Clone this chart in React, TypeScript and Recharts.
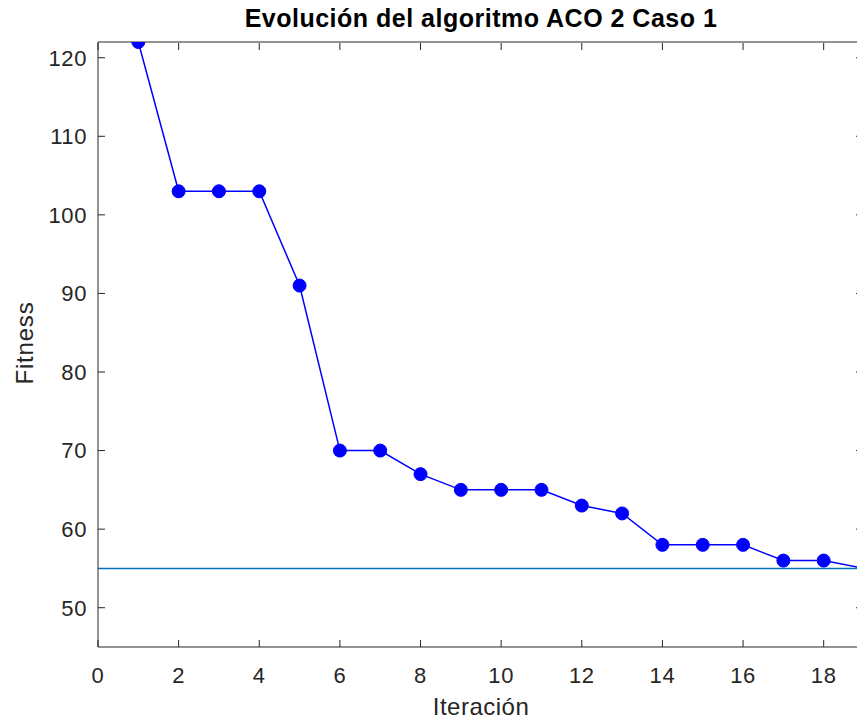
import { LineChart, Line, XAxis, YAxis, ReferenceLine, Label } from "recharts";

const iterations = [1, 2, 3, 4, 5, 6, 7, 8, 9, 10, 11, 12, 13, 14, 15, 16, 17, 18, 19];
const fitness = [122, 103, 103, 103, 91, 70, 70, 67, 65, 65, 65, 63, 62, 58, 58, 58, 56, 56, 55];
const bestFitness = 55;
const xTicks = [0, 2, 4, 6, 8, 10, 12, 14, 16, 18];
const yTicks = [50, 60, 70, 80, 90, 100, 110, 120];

const data = iterations.map((it, i) => ({ iter: it, fitness: fitness[i] }));

const FONT = '"Liberation Sans", Arial, Helvetica, sans-serif';
const AXIS = "#262626";
const TICK_LEN = 7;
const X_GAP = 20;
const Y_GAP = 11;

// matlab style ticks point into the plot
const BottomTick = ({ x, y, payload }: any) => (
  <g>
    <line x1={x} x2={x} y1={y - X_GAP} y2={y - X_GAP - TICK_LEN} stroke={AXIS} />
    <text x={x} y={y} dy="0.71em" textAnchor="middle" fontSize={22} letterSpacing={0.6} fill={AXIS} fontFamily={FONT}>
      {payload.value}
    </text>
  </g>
);

const LeftTick = ({ x, y, payload }: any) => (
  <g>
    <line x1={x + Y_GAP} x2={x + Y_GAP + TICK_LEN} y1={y} y2={y} stroke={AXIS} />
    <text x={x} y={y} dy="0.36em" textAnchor="end" fontSize={22} letterSpacing={0.6} fill={AXIS} fontFamily={FONT}>
      {payload.value}
    </text>
  </g>
);

const TopTick = ({ x, y }: any) => (
  <line x1={x} x2={x} y1={y + 1} y2={y + 1 + TICK_LEN} stroke={AXIS} />
);

const RightTick = ({ x, y }: any) => (
  <line x1={x - 1} x2={x - 1 - TICK_LEN} y1={y} y2={y} stroke={AXIS} />
);

const FitnessLabel = () => (
  <text
    x={24}
    y={343}
    transform="rotate(-90 24 343)"
    textAnchor="middle"
    dominantBaseline="central"
    fontSize={24}
    letterSpacing={0.8}
    fill={AXIS}
    fontFamily={FONT}
  >
    Fitness
  </text>
);

const App = () => {
  return (
    <div
      style={{
        position: "absolute",
        left: 0,
        top: 0,
        width: 857,
        height: 720,
        overflow: "hidden",
        background: "#fff",
      }}
    >
      <LineChart
        width={870}
        height={720}
        data={data}
        margin={{ top: 0, right: 0, left: 0, bottom: 0 }}
      >
        <XAxis
          dataKey="iter"
          type="number"
          domain={[0, 19]}
          ticks={xTicks}
          allowDataOverflow
          height={73}
          stroke={AXIS}
          tickLine={false}
          tickSize={0}
          tickMargin={X_GAP}
          tick={<BottomTick />}
        >
          <Label
            value="Iteración"
            position="insideBottom"
            offset={5}
            style={{ fontSize: 24, letterSpacing: 0.5, fill: AXIS, fontFamily: FONT }}
          />
        </XAxis>
        <XAxis
          xAxisId="top"
          dataKey="iter"
          orientation="top"
          type="number"
          domain={[0, 19]}
          ticks={xTicks}
          allowDataOverflow
          height={42}
          stroke={AXIS}
          tickLine={false}
          tickSize={0}
          tickMargin={0}
          tick={<TopTick />}
        >
          <Label
            value="Evolución del algoritmo ACO 2 Caso 1"
            position="insideTop"
            offset={9}
            style={{ fontSize: 25, letterSpacing: 0.5, fontWeight: "bold", fill: "#000", fontFamily: FONT }}
          />
        </XAxis>
        <YAxis
          type="number"
          domain={[45, 122]}
          ticks={yTicks}
          allowDataOverflow
          width={98}
          stroke={AXIS}
          tickLine={false}
          tickSize={0}
          tickMargin={Y_GAP}
          tick={<LeftTick />}
        >
          <Label content={<FitnessLabel />} />
        </YAxis>
        <YAxis
          yAxisId="right"
          orientation="right"
          type="number"
          domain={[45, 122]}
          ticks={yTicks}
          allowDataOverflow
          width={6}
          stroke={AXIS}
          tickLine={false}
          tickSize={0}
          tickMargin={0}
          tick={<RightTick />}
        />
        <ReferenceLine y={bestFitness} stroke="#0072BD" strokeWidth={1.5} />
        {/* invisible copy so the top/right frame axes get drawn */}
        <Line
          xAxisId="top"
          yAxisId="right"
          dataKey="fitness"
          stroke="none"
          dot={false}
          activeDot={false}
          legendType="none"
          isAnimationActive={false}
        />
        <Line
          dataKey="fitness"
          type="linear"
          stroke="#0000FF"
          strokeWidth={1.5}
          dot={{ r: 6.5, fill: "#0000FF", stroke: "#0000FF", strokeWidth: 1 }}
          activeDot={false}
          isAnimationActive={false}
        />
      </LineChart>
    </div>
  );
};

export default App;
